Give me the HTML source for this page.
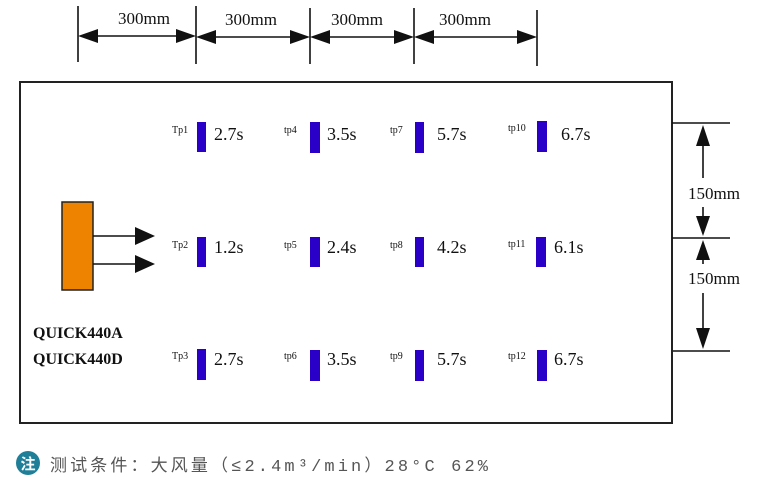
<!DOCTYPE html>
<html><head><meta charset="utf-8"><style>
body{margin:0;background:#fff;width:760px;height:482px;overflow:hidden}
svg{display:block}
.s{font-family:"Liberation Serif",serif;fill:#111}
</style></head><body>
<svg width="760" height="482" viewBox="0 0 760 482">
<g stroke="#111" stroke-width="1.6">
<line x1="78" y1="6" x2="78" y2="62"/><line x1="196" y1="6" x2="196" y2="64"/><line x1="310" y1="8" x2="310" y2="64"/><line x1="414" y1="8" x2="414" y2="64"/><line x1="537" y1="10" x2="537" y2="66"/>
<line x1="90" y1="36" x2="185" y2="36"/><line x1="207" y1="37" x2="299" y2="37"/><line x1="321" y1="37" x2="403" y2="37"/><line x1="425" y1="37" x2="526" y2="37"/>
</g>
<g fill="#111">
<polygon points="78,36 98,29 98,43"/><polygon points="196,36 176,29 176,43"/>
<polygon points="196,37 216,30 216,44"/><polygon points="310,37 290,30 290,44"/>
<polygon points="310,37 330,30 330,44"/><polygon points="414,37 394,30 394,44"/>
<polygon points="414,37 434,30 434,44"/><polygon points="537,37 517,30 517,44"/>
</g>
<g class="s" font-size="17">
<text x="118" y="24">300mm</text><text x="225" y="25">300mm</text><text x="331" y="25">300mm</text><text x="439" y="25">300mm</text>
</g>
<rect x="20" y="82" width="652" height="341" fill="none" stroke="#222" stroke-width="2"/>
<g stroke="#111" stroke-width="1.6">
<line x1="672" y1="123" x2="730" y2="123"/><line x1="672" y1="238" x2="730" y2="238"/><line x1="673" y1="351" x2="730" y2="351"/>
<line x1="703" y1="140" x2="703" y2="178"/><line x1="703" y1="207" x2="703" y2="218"/>
<line x1="703" y1="255" x2="703" y2="264"/><line x1="703" y1="293" x2="703" y2="330"/>
</g>
<g fill="#111">
<polygon points="703,125 696,146 710,146"/><polygon points="703,236 696,216 710,216"/>
<polygon points="703,240 696,260 710,260"/><polygon points="703,349 696,328 710,328"/>
</g>
<g class="s" font-size="17"><text x="688" y="199">150mm</text><text x="688" y="284">150mm</text></g>
<rect x="62" y="202" width="31" height="88" fill="#ee8300" stroke="#222" stroke-width="1.5"/>
<g stroke="#111" stroke-width="1.5"><line x1="93" y1="236" x2="138" y2="236"/><line x1="93" y1="264" x2="138" y2="264"/></g>
<g fill="#111"><polygon points="155,236 135,227 135,245"/><polygon points="155,264 135,255 135,273"/></g>
<g class="s" font-size="16" font-weight="bold"><text x="33" y="338">QUICK440A</text><text x="33" y="364">QUICK440D</text></g>
<g fill="#2a00c8">
<rect x="197" y="122" width="9" height="30"/><rect x="197" y="237" width="9" height="30"/><rect x="197" y="349" width="9" height="31"/>
<rect x="310" y="122" width="10" height="31"/><rect x="310" y="237" width="10" height="30"/><rect x="310" y="350" width="10" height="31"/>
<rect x="415" y="122" width="9" height="31"/><rect x="415" y="237" width="9" height="30"/><rect x="415" y="350" width="9" height="31"/>
<rect x="537" y="121" width="10" height="31"/><rect x="536" y="237" width="10" height="30"/><rect x="537" y="350" width="10" height="31"/>
</g>
<g class="s" font-size="10">
<text x="172" y="133">Tp1</text><text x="172" y="248">Tp2</text><text x="172" y="359">Tp3</text>
<text x="284" y="133">tp4</text><text x="284" y="248">tp5</text><text x="284" y="359">tp6</text>
<text x="390" y="133">tp7</text><text x="390" y="248">tp8</text><text x="390" y="359">tp9</text>
<text x="508" y="131">tp10</text><text x="508" y="247">tp11</text><text x="508" y="359">tp12</text>
</g>
<g class="s" font-size="18">
<text x="214" y="140">2.7s</text><text x="214" y="253">1.2s</text><text x="214" y="365">2.7s</text>
<text x="327" y="140">3.5s</text><text x="327" y="253">2.4s</text><text x="327" y="365">3.5s</text>
<text x="437" y="140">5.7s</text><text x="437" y="253">4.2s</text><text x="437" y="365">5.7s</text>
<text x="561" y="140">6.7s</text><text x="554" y="253">6.1s</text><text x="554" y="365">6.7s</text>
</g>
<circle cx="28" cy="463" r="12" fill="#1f7f98"/>
<text x="28" y="469" font-size="15" fill="#fff" text-anchor="middle" font-family="'Noto Sans CJK SC',sans-serif" font-weight="bold">注</text>
<text x="50" y="471" font-size="17" fill="#555" textLength="438" lengthAdjust="spacing" font-family="'Liberation Mono','Noto Sans CJK SC',monospace">测试条件：大风量（≤2.4m³/min）28°C 62%</text>
</svg>
</body></html>
